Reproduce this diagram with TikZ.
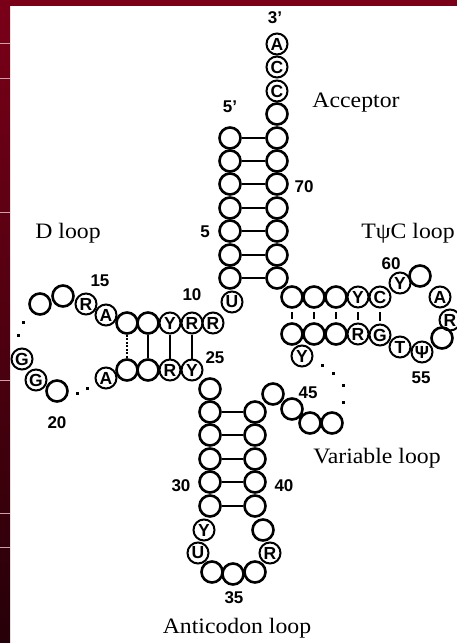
\documentclass[tikz,border=0pt]{standalone}
\usepackage{fontspec}
\setsansfont{Liberation Sans}
\newfontfamily\lblfont[FakeStretch=1.08]{Liberation Serif}
\definecolor{stripTop}{RGB}{122,0,24}
\definecolor{stripBot}{RGB}{38,0,8}
\definecolor{stripLine}{RGB}{205,160,170}
\tikzset{
  nt/.style={circle, draw, line width=2.6pt, minimum size=21pt, inner sep=0pt},
  ntl/.style={circle, draw, line width=2pt, minimum size=21pt, inner sep=0pt, font=\sffamily\bfseries\fontsize{17.5}{17.5}\selectfont},
  num/.style={font=\sffamily\bfseries\fontsize{17}{17}\selectfont, inner sep=0pt},
  region/.style={font=\lblfont\fontsize{22}{22}\selectfont, anchor=base, inner sep=0pt},
  rung/.style={line width=2.6pt},
  dpair/.style={line width=2pt},
  tpair/.style={line width=2pt, shorten <=3pt, shorten >=3pt}
}

\begin{document}
\begin{tikzpicture}[x=1pt,y=-1pt]
  \useasboundingbox (0,0) rectangle (457,643);
  \fill[white] (0,0) rectangle (457,643);
  \shade[top color=stripTop, bottom color=stripBot] (0,0) rectangle (10,643);
  \fill[stripTop] (0,0) rectangle (457,6);
  \draw[stripLine, line width=1pt] (0,43) -- (10,43) (0,78) -- (10,78) (0,212) -- (10,212);
  \draw[stripLine, line width=1pt] (0,380) -- (10,380) (0,513) -- (10,513) (0,547) -- (10,547);

  % acceptor stem
  \node[ntl] (n76) at (277,44) {A}; \node[ntl] (n75) at (277,67) {C}; \node[ntl] (n74) at (277,91) {C};
  \node[nt] (n73) at (277,114) {}; \node[nt] (n72) at (277,138) {}; \node[nt] (n71) at (277,161) {};
  \node[nt] (n70) at (277,184) {}; \node[nt] (n69) at (277,208) {}; \node[nt] (n68) at (277,231) {};
  \node[nt] (n67) at (277,255) {}; \node[nt] (n66) at (277,278) {};
  \node[nt] (n1) at (230,138) {}; \node[nt] (n2) at (230,161) {}; \node[nt] (n3) at (230,184) {};
  \node[nt] (n4) at (230,208) {}; \node[nt] (n5) at (230,231) {}; \node[nt] (n6) at (230,255) {};
  \node[nt] (n7) at (230,278) {};
  \node[ntl] (n8) at (232,302) {U};
  \draw[rung] (n1) -- (n72); \draw[rung] (n2) -- (n71); \draw[rung] (n3) -- (n70);
  \draw[rung] (n4) -- (n69); \draw[rung] (n5) -- (n68); \draw[rung] (n6) -- (n67);
  \draw[rung] (n7) -- (n66);

  % D arm
  \node[ntl] (n9) at (213,323) {R}; \node[ntl] (n10) at (192,323) {R}; \node[ntl] (n11) at (170,323) {Y};
  \node[nt] (n12) at (148,323) {}; \node[nt] (n13) at (127,323) {};
  \node[ntl] (n14) at (106,315) {A}; \node[ntl] (n15) at (86,304) {R};
  \node[nt] (n16) at (63,296) {}; \node[nt] (n17) at (40,304) {};
  \node[ntl] (n18) at (22,359) {G}; \node[ntl] (n19) at (36,380) {G}; \node[nt] (n20) at (57,391) {};
  \node[ntl] (n21) at (106,378) {A}; \node[nt] (n22) at (127,370) {}; \node[nt] (n23) at (148,370) {};
  \node[ntl] (n24) at (170,370) {R}; \node[ntl] (n25) at (192,370) {Y};
  \draw[dpair] (n10) -- (n25); \draw[dpair] (n11) -- (n24); \draw[dpair] (n12) -- (n23);
  \draw[dpair, dash pattern=on 2pt off 1.5pt] (n13) -- (n22);
  \fill (21.5,320.5) rectangle +(3,3); \fill (16.5,333.5) rectangle +(3,3);
  \fill (75.5,391.5) rectangle +(3,3); \fill (85.5,386.5) rectangle +(3,3);

  % anticodon arm
  \node[nt] (n26) at (210,389) {}; \node[nt] (n27) at (210,412) {}; \node[nt] (n28) at (210,435) {};
  \node[nt] (n29) at (210,459) {}; \node[nt] (n30) at (210,482) {}; \node[nt] (n31) at (210,506) {};
  \node[ntl] (n32) at (204,530) {Y}; \node[ntl] (n33) at (198,553) {U};
  \node[nt] (n34) at (212,572) {}; \node[nt] (n35) at (233,574) {}; \node[nt] (n36) at (255,572) {};
  \node[ntl] (n37) at (270,553) {R}; \node[nt] (n38) at (263,530) {};
  \node[nt] (n39) at (255,506) {}; \node[nt] (n40) at (255,482) {}; \node[nt] (n41) at (255,459) {};
  \node[nt] (n42) at (255,435) {}; \node[nt] (n43) at (255,412) {};
  \draw[rung] (n27) -- (n43); \draw[rung] (n28) -- (n42); \draw[rung] (n29) -- (n41);
  \draw[rung] (n30) -- (n40); \draw[rung] (n31) -- (n39);

  % variable loop
  \node[nt] (n44) at (273,394) {}; \node[nt] (n45) at (292,409) {};
  \node[nt] (n46) at (310,423) {}; \node[nt] (n47) at (332,423) {};
  \fill (341.5,400.5) rectangle +(3,3); \fill (341.5,383.5) rectangle +(3,3);
  \fill (331.5,371.5) rectangle +(3,3); \fill (320.5,363.5) rectangle +(3,3);

  % T arm
  \node[ntl] (n48) at (302,356) {Y};
  \node[nt] (n49) at (292,334) {}; \node[nt] (n50) at (314,334) {}; \node[nt] (n51) at (336,334) {};
  \node[ntl] (n52) at (358,334) {R}; \node[ntl] (n53) at (380,335) {G};
  \node[ntl] (n54) at (400,347) {T}; \node[ntl] (n55) at (422,352) {Ψ};
  \node[nt] (n56) at (442,338) {}; \node[ntl] (n57) at (450,320) {R};
  \node[ntl] (n58) at (440,297) {A}; \node[nt] (n59) at (420,276) {};
  \node[ntl] (n60) at (400,283) {Y}; \node[ntl] (n61) at (380,297) {C}; \node[ntl] (n62) at (358,297) {Y};
  \node[nt] (n63) at (336,297) {}; \node[nt] (n64) at (314,297) {}; \node[nt] (n65) at (292,297) {};
  \draw[tpair] (n49) -- (n65); \draw[tpair] (n50) -- (n64); \draw[tpair] (n51) -- (n63);
  \draw[tpair] (n52) -- (n62); \draw[tpair] (n53) -- (n61);

  % numbers
  \node[num] at (275,18) {3'};
  \node[num] at (230,107) {5'};
  \node[num] at (304,187) {70};
  \node[num] at (205,232) {5};
  \node[num] at (192,295) {10};
  \node[num] at (100,281) {15};
  \node[num] at (57,423) {20};
  \node[num] at (215,358) {25};
  \node[num] at (181,486) {30};
  \node[num] at (234,598) {35};
  \node[num] at (284,486) {40};
  \node[num] at (308,393) {45};
  \node[num] at (421,378) {55};
  \node[num] at (391,264) {60};

  % region names
  \node[region] at (356,107) {Acceptor};
  \node[region] at (68,238) {D loop};
  \node[region] at (408,238) {TψC loop};
  \node[region] at (377,463) {Variable loop};
  \node[region] at (237,633) {Anticodon loop};
\end{tikzpicture}
\end{document}
